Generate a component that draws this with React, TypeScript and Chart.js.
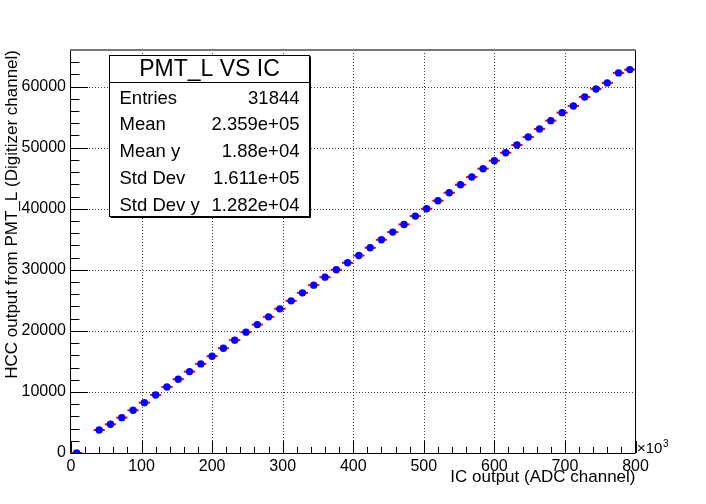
import React, { useEffect, useRef } from "react";
import { Chart, registerables } from "chart.js";

Chart.register(...registerables);

const FONT = "'Liberation Sans', Arial, Helvetica, sans-serif";

// profile bins (x in units of 10^3 ADC channels)
const binCenters = [
  8, 40, 56, 72, 88, 104, 120, 136, 152, 168, 184, 200, 216, 232, 248, 264,
  280, 296, 312, 328, 344, 360, 376, 392, 408, 424, 440, 456, 472, 488, 504,
  520, 536, 552, 568, 584, 600, 616, 632, 648, 664, 680, 696, 712, 728, 744,
  760, 776, 792,
];
const hccMeans = [
  0, 3770, 4700, 5790, 7000, 8250, 9510, 10820, 12080, 13330, 14590, 15850,
  17160, 18480, 19790, 21030, 22300, 23610, 24920, 26230, 27490, 28800, 30000,
  31150, 32340, 33610, 34920, 36180, 37430, 38800, 40000, 41310, 42620, 43930,
  45200, 46560, 47870, 49180, 50440, 51750, 53070, 54430, 55740, 56840, 58310,
  59620, 60610, 62250, 62790,
];
const binHalfWidth = 8;

const xTickValues = [0, 100, 200, 300, 400, 500, 600, 700, 800];
const xTickLabels = ["0", "100", "200", "300", "400", "500", "600", "700", "800"];
const yTickValues = [0, 10000, 20000, 30000, 40000, 50000, 60000];
const yTickLabels = ["0", "10000", "20000", "30000", "40000", "50000", "60000"];

const statsTitle = "PMT_L VS IC";
const statsLabels = ["Entries", "Mean", "Mean y", "Std Dev", "Std Dev y"];
const statsValues = ["31844", "2.359e+05", "1.88e+04", "1.611e+05", "1.282e+04"];

const rootStyle = {
  id: "rootStyle",
  beforeDatasetsDraw(chart: any) {
    const { ctx, chartArea: a, scales } = chart;
    const x = scales.x;
    const y = scales.y;
    ctx.save();

    // dotted grid
    ctx.strokeStyle = "rgba(0,0,0,0.75)";
    ctx.lineWidth = 1;
    ctx.setLineDash([1, 2]);
    xTickValues.forEach((v) => {
      if (v <= x.min || v >= x.max) return;
      const px = Math.round(x.getPixelForValue(v)) + 0.5;
      ctx.beginPath();
      ctx.moveTo(px, a.top);
      ctx.lineTo(px, a.bottom);
      ctx.stroke();
    });
    yTickValues.forEach((v) => {
      if (v <= y.min) return;
      const py = Math.round(y.getPixelForValue(v)) + 0.5;
      ctx.beginPath();
      ctx.moveTo(a.left, py);
      ctx.lineTo(a.right, py);
      ctx.stroke();
    });
    ctx.setLineDash([]);

    // inward ticks
    ctx.strokeStyle = "#000";
    const fw = a.right - a.left;
    const fh = a.bottom - a.top;
    for (let v = 0; v <= y.max; v += 2000) {
      const py = Math.round(y.getPixelForValue(v)) + 0.5;
      const len = v % 10000 === 0 ? fw * 0.03 : fw * 0.015;
      ctx.beginPath();
      ctx.moveTo(a.left, py);
      ctx.lineTo(a.left + len, py);
      ctx.stroke();
    }
    for (let v = 0; v <= x.max; v += 20) {
      const px = Math.round(x.getPixelForValue(v)) + 0.5;
      const len = v % 100 === 0 ? fh * 0.03 : fh * 0.015;
      ctx.beginPath();
      ctx.moveTo(px, a.bottom);
      ctx.lineTo(px, a.bottom - len);
      ctx.stroke();
    }

    // bin-width error bars
    ctx.strokeStyle = "#ff0000";
    ctx.lineWidth = 2;
    binCenters.forEach((c, i) => {
      const py = y.getPixelForValue(hccMeans[i]);
      ctx.beginPath();
      ctx.moveTo(x.getPixelForValue(c - binHalfWidth), py);
      ctx.lineTo(x.getPixelForValue(c + binHalfWidth), py);
      ctx.stroke();
    });
    ctx.restore();
  },
  afterDraw(chart: any) {
    const { ctx, chartArea: a } = chart;
    ctx.save();

    // frame
    ctx.lineWidth = 1;
    ctx.strokeStyle = "#000";
    ctx.beginPath();
    ctx.moveTo(a.left - 0.5, a.top);
    ctx.lineTo(a.left - 0.5, a.bottom + 0.5);
    ctx.lineTo(a.right, a.bottom + 0.5);
    ctx.lineTo(a.right, a.top);
    ctx.stroke();
    ctx.strokeStyle = "#777";
    ctx.lineWidth = 2;
    ctx.beginPath();
    ctx.moveTo(a.left - 1, a.top);
    ctx.lineTo(a.right + 0.5, a.top);
    ctx.stroke();

    // x10^3 multiplier
    ctx.fillStyle = "#000";
    ctx.textAlign = "left";
    ctx.textBaseline = "alphabetic";
    ctx.font = `15px ${FONT}`;
    ctx.fillText("\u00d710", a.right + 1.5, 452.5);
    const w = ctx.measureText("\u00d710").width;
    ctx.font = `10px ${FONT}`;
    ctx.fillText("3", a.right + 2 + w, 446.5);

    // stats box
    const L = 109.5, T = 55.5, R = 309.5, B = 216.5;
    ctx.fillStyle = "#fff";
    ctx.fillRect(L, T, R - L, B - T);
    ctx.strokeStyle = "#000";
    ctx.lineWidth = 1;
    ctx.strokeRect(L, T, R - L, B - T);
    ctx.beginPath();
    ctx.moveTo(R + 1, T + 1);
    ctx.lineTo(R + 1, B + 1);
    ctx.lineTo(L + 1, B + 1);
    ctx.stroke();
    ctx.beginPath();
    ctx.moveTo(L, 82.5);
    ctx.lineTo(R, 82.5);
    ctx.stroke();

    ctx.fillStyle = "#000";
    ctx.font = `23px ${FONT}`;
    ctx.textAlign = "center";
    ctx.fillText(statsTitle, (L + R) / 2, 75.5);
    ctx.font = `18.5px ${FONT}`;
    statsLabels.forEach((lab, i) => {
      const by = 103.5 + i * 26.8;
      ctx.textAlign = "left";
      ctx.fillText(lab, 119.5, by);
      ctx.textAlign = "right";
      ctx.fillText(statsValues[i], 299.5, by);
    });
    ctx.restore();
  },
};

const App = () => {
  const canvasRef: any = useRef(null);
  const chartRef: any = useRef(null);

  useEffect(() => {
    if (!canvasRef.current) return;
    const ctx = canvasRef.current.getContext("2d");

    chartRef.current = new Chart(ctx, {
      type: "scatter",
      data: {
        datasets: [
          {
            label: "PMT_L VS IC",
            data: binCenters.map((c, i) => ({ x: c, y: hccMeans[i] })),
            backgroundColor: "#0000ff",
            borderColor: "#0000ff",
            borderWidth: 0,
            pointRadius: 3.7,
            showLine: false,
          },
        ],
      },
      options: {
        animation: false,
        responsive: true,
        maintainAspectRatio: false,
        layout: { padding: { top: 50, right: 70.5, left: 0, bottom: 0 } },
        plugins: {
          legend: { display: false },
          tooltip: { enabled: false },
        },
        scales: {
          x: {
            type: "linear",
            min: 0,
            max: 800,
            afterBuildTicks: (s: any) => {
              s.ticks = xTickValues.map((v) => ({ value: v }));
            },
            afterFit: (s: any) => {
              s.height = 51;
            },
            grid: { display: false, drawTicks: false },
            border: { display: false },
            ticks: {
              color: "#000",
              font: { family: FONT, size: 16 },
              padding: 4,
              maxRotation: 0,
              autoSkip: false,
              callback: (_v: any, i: number) => xTickLabels[i],
            },
            title: {
              display: true,
              text: "IC output (ADC channel)",
              align: "end",
              color: "#000",
              font: { family: FONT, size: 17 },
              padding: { top: 0, bottom: 16 },
            },
          },
          y: {
            type: "linear",
            min: 0,
            max: 66000,
            afterBuildTicks: (s: any) => {
              s.ticks = yTickValues.map((v) => ({ value: v }));
            },
            afterFit: (s: any) => {
              s.width = 71;
            },
            grid: { display: false, drawTicks: false },
            border: { display: false },
            ticks: {
              color: "#000",
              font: { family: FONT, size: 16 },
              padding: 5,
              autoSkip: false,
              callback: (_v: any, i: number) => yTickLabels[i],
            },
            title: {
              display: true,
              text: "HCC output from PMT_L (Digitizer channel)",
              align: "end",
              color: "#000",
              font: { family: FONT, size: 17 },
              padding: { top: 2, bottom: 0 },
            },
          },
        },
      },
      plugins: [rootStyle],
    } as any);

    return () => {
      if (chartRef.current) {
        chartRef.current.destroy();
      }
    };
  }, []);

  return (
    <div
      style={{
        position: "absolute",
        left: 0,
        top: 0,
        width: 706,
        height: 504,
        background: "#fff",
      }}
    >
      <canvas ref={canvasRef}></canvas>
    </div>
  );
};

export default App;
